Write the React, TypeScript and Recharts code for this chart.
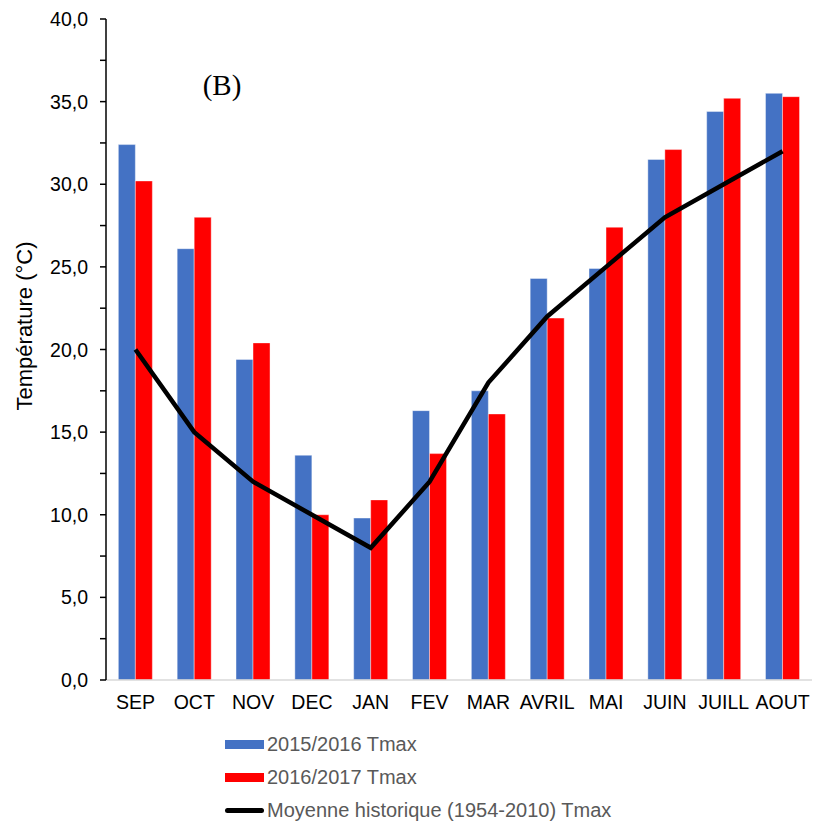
import {
  Bar,
  ComposedChart,
  Line,
  XAxis,
  YAxis,
} from "recharts";

const MONTHS = ["SEP", "OCT", "NOV", "DEC", "JAN", "FEV", "MAR", "AVRIL", "MAI", "JUIN", "JUILL", "AOUT"];
const TMAX_2015 = [32.4, 26.1, 19.4, 13.6, 9.8, 16.3, 17.5, 24.3, 24.9, 31.5, 34.4, 35.5];
const TMAX_2016 = [30.2, 28.0, 20.4, 10.0, 10.9, 13.7, 16.1, 21.9, 27.4, 32.1, 35.2, 35.3];
const TMAX_HIST = [20, 15, 12, 10, 8, 12, 18, 22, 25, 28, 30, 32];
const Y_TICKS = [0, 2.5, 5, 7.5, 10, 12.5, 15, 17.5, 20, 22.5, 25, 27.5, 30, 32.5, 35, 37.5, 40];
const SERIES_NAMES = [
  "2015/2016 Tmax",
  "2016/2017 Tmax",
  "Moyenne historique (1954-2010) Tmax",
];

const BLUE = "#4472C4";
const RED = "#FF0000";
const FONT = "'Liberation Sans', Arial, sans-serif";

const data = MONTHS.map((m, i) => ({
  month: m,
  a: TMAX_2015[i],
  b: TMAX_2016[i],
  hist: TMAX_HIST[i],
}));

const YTick = (props: any) => {
  const { x, y, payload } = props;
  if (payload.value % 5 !== 0) return null;
  return (
    <text
      x={x}
      y={y}
      textAnchor="end"
      dominantBaseline="central"
      fontSize={19.5}
      fontFamily={FONT}
      fill="#000"
    >
      {payload.value.toFixed(1).replace(".", ",")}
    </text>
  );
};

const YLabel = () => (
  <text
    x={24}
    y={326}
    transform="rotate(-90, 24, 326)"
    textAnchor="middle"
    dominantBaseline="central"
    fontSize={22}
    fontFamily={FONT}
    fill="#000"
  >
    Température (°C)
  </text>
);

const legendItems = [
  { name: SERIES_NAMES[0], color: BLUE, type: "bar" },
  { name: SERIES_NAMES[1], color: RED, type: "bar" },
  { name: SERIES_NAMES[2], color: "#000", type: "line" },
];

export default function App() {
  return (
    <div
      style={{
        position: "absolute",
        top: 0,
        left: 0,
        width: 813,
        height: 824,
        background: "#fff",
      }}
    >
      <ComposedChart
        width={813}
        height={720}
        data={data}
        margin={{ top: 19, right: 1, bottom: 0, left: 0 }}
        barGap={0}
        barCategoryGap="21%"
      >
        <XAxis
          dataKey="month"
          height={40}
          tickLine={false}
          tickSize={0}
          tickMargin={15}
          axisLine={{ stroke: "#d9d9d9", strokeWidth: 1.5 }}
          tick={{ fontSize: 19.5, fontFamily: FONT, fill: "#000" }}
          interval={0}
        />
        <YAxis
          width={106}
          domain={[0, 40]}
          ticks={Y_TICKS}
          interval={0}
          tickSize={6}
          tickMargin={12}
          axisLine={{ stroke: "#000", strokeWidth: 1.5 }}
          tickLine={{ stroke: "#000", strokeWidth: 1.5 }}
          tick={<YTick />}
          label={<YLabel />}
        />
        <Bar
          dataKey="a"
          name={SERIES_NAMES[0]}
          fill={BLUE}
          stroke="#ffffff"
          strokeOpacity={0.4}
          isAnimationActive={false}
        />
        <Bar
          dataKey="b"
          name={SERIES_NAMES[1]}
          fill={RED}
          stroke="#ffffff"
          strokeOpacity={0.4}
          isAnimationActive={false}
        />
        <Line
          dataKey="hist"
          name={SERIES_NAMES[2]}
          type="linear"
          stroke="#000"
          strokeWidth={4.5}
          dot={false}
          activeDot={false}
          isAnimationActive={false}
        />
        <text
          x={222}
          y={85}
          textAnchor="middle"
          dominantBaseline="central"
          fontSize={29}
          fontFamily="'Liberation Serif', 'Times New Roman', serif"
          fill="#000"
        >
          (B)
        </text>
      </ComposedChart>
      <div
        style={{
          position: "absolute",
          left: 225,
          top: 728,
          fontFamily: FONT,
          fontSize: 20,
          color: "#595959",
        }}
      >
        {legendItems.map((it) => (
          <div
            key={it.name}
            style={{ display: "flex", alignItems: "center", height: 33 }}
          >
            <div
              style={{
                width: 39,
                height: it.type === "bar" ? 9 : 5,
                borderRadius: it.type === "bar" ? 0 : 3,
                background: it.color,
                marginRight: 3,
              }}
            />
            <span>{it.name}</span>
          </div>
        ))}
      </div>
    </div>
  );
}
